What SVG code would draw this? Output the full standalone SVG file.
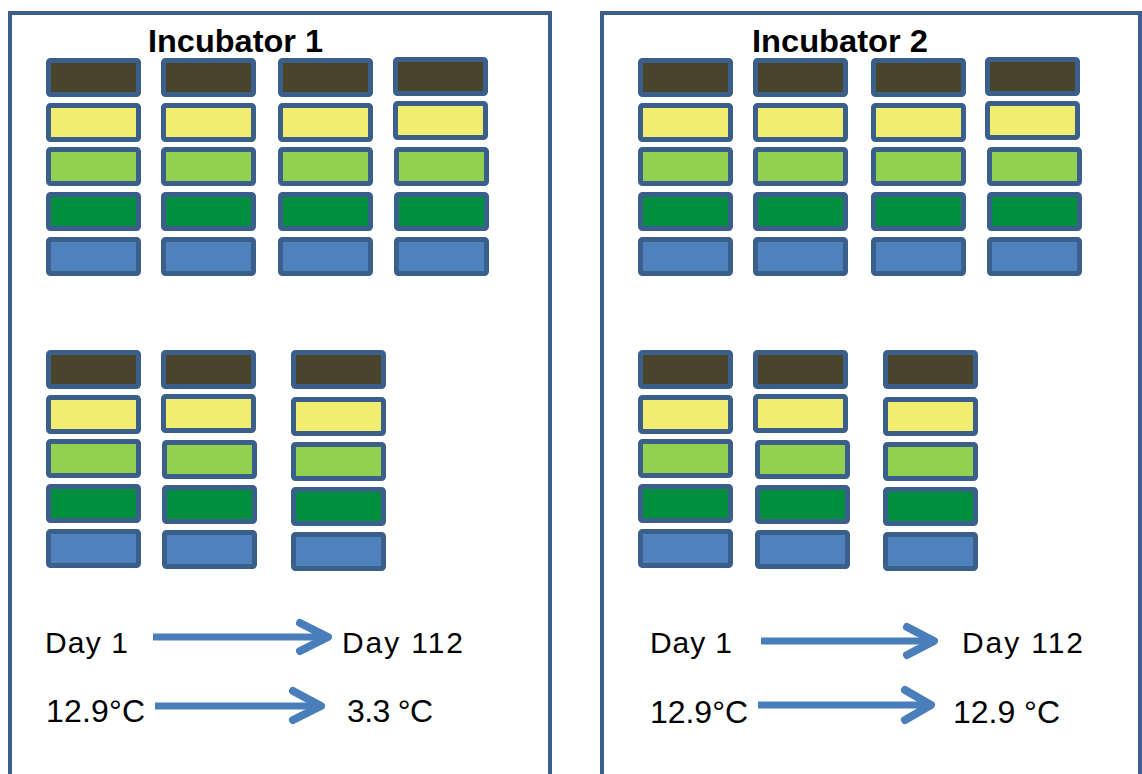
<svg xmlns="http://www.w3.org/2000/svg" width="1142" height="774" viewBox="0 0 1142 774">
<style>
.frame{fill:none;stroke:#3A5F8B;stroke-width:4}
.c1,.c2,.c3,.c4,.c5{stroke:#3A5F8B;stroke-width:5}
.c1{fill:#4A442C}
.c2{fill:#F2EC70}
.c3{fill:#92D050}
.c4{fill:#008F3E}
.c5{fill:#4F81BD}
.title{font-family:"Liberation Sans",Arial,sans-serif;font-weight:bold;font-size:31px;fill:#000}
.lbl{font-family:"Liberation Sans",Arial,sans-serif;font-size:30px;fill:#000}
.tmp{font-family:"Liberation Sans",Arial,sans-serif;font-size:32px;fill:#000}
.shaft{stroke:#4A7EBB;stroke-width:7;fill:none}
.head{stroke:#4A7EBB;stroke-width:8;fill:none;stroke-linecap:round;stroke-linejoin:round}
</style>
<defs>
<g id="rack">
<rect class="c1" x="0" y="0" width="90" height="34" rx="2"/>
<rect class="c2" x="0" y="45" width="90" height="34" rx="2"/>
<rect class="c3" x="0" y="89" width="90" height="34" rx="2"/>
<rect class="c4" x="0" y="134" width="90" height="34" rx="2"/>
<rect class="c5" x="0" y="179" width="90" height="34" rx="2"/>
</g>
</defs>

<g id="incubator1">
<rect class="frame" x="10" y="13" width="540" height="800"/>
<text class="title" x="148" y="52" textLength="175" lengthAdjust="spacingAndGlyphs">Incubator 1</text>
<g id="inc1-rack1"><use href="#rack" x="48.5" y="60.5"/></g>
<g id="inc1-rack2"><use href="#rack" x="163.5" y="60.5"/></g>
<g id="inc1-rack3"><use href="#rack" x="280.5" y="60.5"/></g>
<g id="inc1-rack4">
<rect class="c1" x="395.5" y="59.5" width="90" height="34" rx="2"/>
<rect class="c2" x="395.5" y="103.5" width="90" height="34" rx="2"/>
<rect class="c3" x="396.5" y="149.5" width="90" height="34" rx="2"/>
<rect class="c4" x="396.5" y="194.5" width="90" height="34" rx="2"/>
<rect class="c5" x="396.5" y="239.5" width="90" height="34" rx="2"/>
</g>
<g id="inc1-rack5"><use href="#rack" x="48.5" y="352.5"/></g>
<g id="inc1-rack6">
<rect class="c1" x="163.5" y="352.5" width="90" height="34" rx="2"/>
<rect class="c2" x="163.5" y="396.5" width="90" height="34" rx="2"/>
<rect class="c3" x="164.5" y="442.5" width="90" height="34" rx="2"/>
<rect class="c4" x="164.5" y="487.5" width="90" height="34" rx="2"/>
<rect class="c5" x="164.5" y="532.5" width="90" height="34" rx="2"/>
</g>
<g id="inc1-rack7">
<rect class="c1" x="293.5" y="352.5" width="90" height="34" rx="2"/>
<rect class="c2" x="293.5" y="399.5" width="90" height="34" rx="2"/>
<rect class="c3" x="293.5" y="444.5" width="90" height="34" rx="2"/>
<rect class="c4" x="293.5" y="489.5" width="90" height="34" rx="2"/>
<rect class="c5" x="293.5" y="534.5" width="90" height="34" rx="2"/>
</g>
<text class="lbl" x="45" y="653" textLength="83" lengthAdjust="spacing">Day 1</text>
<text class="lbl" x="342" y="653" textLength="121" lengthAdjust="spacing">Day 112</text>
<text class="tmp" x="46" y="722" textLength="99" lengthAdjust="spacing">12.9°C</text>
<text class="tmp" x="347" y="722" textLength="86" lengthAdjust="spacing">3.3 °C</text>
</g>

<g id="incubator2">
<rect class="frame" x="602" y="13" width="538" height="800"/>
<text class="title" x="752" y="52" textLength="176" lengthAdjust="spacingAndGlyphs">Incubator 2</text>
<g id="inc2-rack1"><use href="#rack" x="640.5" y="60.5"/></g>
<g id="inc2-rack2"><use href="#rack" x="755.5" y="60.5"/></g>
<g id="inc2-rack3"><use href="#rack" x="873.5" y="60.5"/></g>
<g id="inc2-rack4">
<rect class="c1" x="987.5" y="59.5" width="90" height="34" rx="2"/>
<rect class="c2" x="987.5" y="103.5" width="90" height="34" rx="2"/>
<rect class="c3" x="989.5" y="149.5" width="90" height="34" rx="2"/>
<rect class="c4" x="989.5" y="194.5" width="90" height="34" rx="2"/>
<rect class="c5" x="989.5" y="239.5" width="90" height="34" rx="2"/>
</g>
<g id="inc2-rack5"><use href="#rack" x="640.5" y="352.5"/></g>
<g id="inc2-rack6">
<rect class="c1" x="755.5" y="352.5" width="90" height="34" rx="2"/>
<rect class="c2" x="755.5" y="396.5" width="90" height="34" rx="2"/>
<rect class="c3" x="757.5" y="442.5" width="90" height="34" rx="2"/>
<rect class="c4" x="757.5" y="487.5" width="90" height="34" rx="2"/>
<rect class="c5" x="757.5" y="532.5" width="90" height="34" rx="2"/>
</g>
<g id="inc2-rack7">
<rect class="c1" x="885.5" y="352.5" width="90" height="34" rx="2"/>
<rect class="c2" x="885.5" y="399.5" width="90" height="34" rx="2"/>
<rect class="c3" x="885.5" y="444.5" width="90" height="34" rx="2"/>
<rect class="c4" x="885.5" y="489.5" width="90" height="34" rx="2"/>
<rect class="c5" x="885.5" y="534.5" width="90" height="34" rx="2"/>
</g>
<text class="lbl" x="650" y="653" textLength="82" lengthAdjust="spacing">Day 1</text>
<text class="lbl" x="962" y="653" textLength="121" lengthAdjust="spacing">Day 112</text>
<text class="tmp" x="650" y="723" textLength="98" lengthAdjust="spacing">12.9°C</text>
<text class="tmp" x="953" y="723" textLength="107" lengthAdjust="spacing">12.9 °C</text>
</g>

<g id="connectors">
<line class="shaft" x1="153" y1="637" x2="325" y2="637"/>
<polyline class="head" points="300,623 328,637 300,651"/>
<line class="shaft" x1="155" y1="706" x2="318" y2="706"/>
<polyline class="head" points="293,691 321,706 293,720"/>
<line class="shaft" x1="761" y1="641" x2="931" y2="641"/>
<polyline class="head" points="907,627 934,641 907,655"/>
<line class="shaft" x1="758" y1="705" x2="928" y2="705"/>
<polyline class="head" points="905,690 931,705 905,720"/>
</g>
</svg>
